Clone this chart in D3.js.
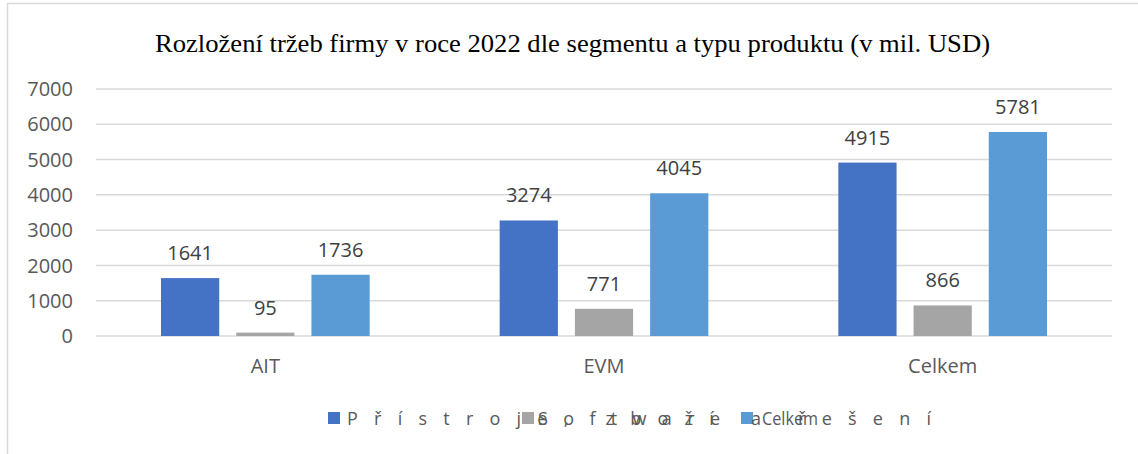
<!DOCTYPE html>
<html>
<head>
<meta charset="utf-8">
<script src="https://cdn.jsdelivr.net/npm/d3@7"></script>
<style>
  html, body { margin: 0; padding: 0; background: #fff; }
  svg { display: block; }
</style>
</head>
<body>
<div id="chart"></div>
<script>
// Data
const categories = ["AIT", "EVM", "Celkem"];
const seriesNames = ["Přístroje, zboží a řešení", "Software", "Celkem"];
const pristroje = [1641, 3274, 4915];
const software = [95, 771, 866];
const celkem = [1736, 4045, 5781];
const yTicks = [0, 1000, 2000, 3000, 4000, 5000, 6000, 7000];

const colors = ["#4472C4", "#A5A5A5", "#5B9BD5"];
const textColor = "#595959";
const gridColor = "#D9D9D9";

const width = 1138, height = 454;
const margin = {top: 89, right: 26, bottom: 118, left: 96};

const svg = d3.select("#chart").append("svg")
    .attr("width", width)
    .attr("height", height);

// chart frame (only left and top edges visible in the crop)
svg.append("rect")
    .attr("x", 7.5).attr("y", 3.5)
    .attr("width", 1160).attr("height", 480)
    .attr("fill", "none")
    .attr("stroke", gridColor)
    .attr("stroke-width", 1.5);

svg.append("text")
    .attr("x", 155).attr("y", 52)
    .attr("textLength", 835)
    .attr("lengthAdjust", "spacingAndGlyphs")
    .attr("font-family", "'Liberation Serif', 'Times New Roman', serif")
    .attr("font-size", 26)
    .attr("fill", "#000")
    .text("Rozložení tržeb firmy v roce 2022 dle segmentu a typu produktu (v mil. USD)");

const x0 = d3.scaleBand()
    .domain(categories)
    .range([margin.left, width - margin.right])
    .paddingInner(0)
    .paddingOuter(0);

const x1 = d3.scaleBand()
    .domain(d3.range(3))
    .range([65, x0.bandwidth() - 65])
    .paddingInner(0.226);

const y = d3.scaleLinear()
    .domain([0, 7000])
    .range([height - margin.bottom, margin.top]);

// gridlines
svg.append("g")
    .selectAll("line")
    .data(yTicks)
    .join("line")
    .attr("x1", margin.left)
    .attr("x2", width - margin.right)
    .attr("y1", d => y(d))
    .attr("y2", d => y(d))
    .attr("stroke", gridColor)
    .attr("stroke-width", 1.5);

// y axis labels
svg.append("g")
    .selectAll("text")
    .data(yTicks)
    .join("text")
    .attr("x", 73)
    .attr("y", d => y(d))
    .attr("dy", "0.36em")
    .attr("text-anchor", "end")
    .attr("font-family", "'Open Sans', 'Noto Sans', sans-serif")
    .attr("font-size", 20)
    .attr("fill", textColor)
    .text(d => d);

const rows = categories.map((c, i) => ({
    cat: c,
    values: [pristroje[i], software[i], celkem[i]]
}));

const groups = svg.append("g")
    .selectAll("g")
    .data(rows)
    .join("g")
    .attr("transform", d => `translate(${x0(d.cat)},0)`);

groups.selectAll("rect")
    .data(d => d.values)
    .join("rect")
    .attr("x", (d, i) => x1(i))
    .attr("width", x1.bandwidth())
    .attr("y", d => y(d))
    .attr("height", d => y(0) - y(d))
    .attr("fill", (d, i) => colors[i]);

groups.selectAll("text")
    .data(d => d.values)
    .join("text")
    .attr("x", (d, i) => x1(i) + x1.bandwidth() / 2)
    .attr("y", d => y(d) - 18)
    .attr("text-anchor", "middle")
    .attr("font-family", "'Open Sans', 'Noto Sans', sans-serif")
    .attr("font-size", 20)
    .attr("fill", "#404040")
    .text(d => d);

// category labels
svg.append("g")
    .selectAll("text")
    .data(categories)
    .join("text")
    .attr("x", d => x0(d) + x0.bandwidth() / 2)
    .attr("y", 373)
    .attr("text-anchor", "middle")
    .attr("font-family", "'Open Sans', 'Noto Sans', sans-serif")
    .attr("font-size", 20)
    .attr("fill", textColor)
    .text(d => d);

// legend (the original renders its labels stretched and overlapping)
const legend = [
    {name: seriesNames[0], sx: 328, tx: 347, len: 584, adj: "spacing"},
    {name: seriesNames[1], sx: 522, tx: 538, len: 182, adj: "spacing"},
    {name: seriesNames[2], sx: 741, tx: 762, len: 56, adj: "spacingAndGlyphs"}
];
const lg = svg.append("g");
lg.selectAll("rect")
    .data(legend)
    .join("rect")
    .attr("x", d => d.sx)
    .attr("y", 412)
    .attr("width", 12)
    .attr("height", 12)
    .attr("fill", (d, i) => colors[i]);
lg.selectAll("text")
    .data(legend)
    .join("text")
    .attr("x", d => d.tx)
    .attr("y", 425)
    .attr("textLength", d => d.len)
    .attr("lengthAdjust", d => d.adj)
    .attr("font-family", "'Open Sans', 'Noto Sans', sans-serif")
    .attr("font-size", 18)
    .attr("fill", textColor)
    .text(d => d.name);
</script>
</body>
</html>
